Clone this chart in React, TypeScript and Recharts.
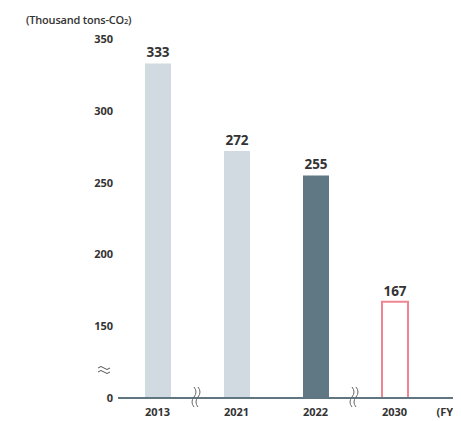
import { BarChart, Bar, XAxis, YAxis, Cell, LabelList } from 'recharts';

const years = ['2013', '2021', '2022', '2030'];
const emissions = [333, 272, 255, 167];
const barFills = ['#d0dae0', '#d0dae0', '#5f7883', '#ffffff'];
const barStrokes = ['none', 'none', 'none', '#f08592'];
const yTicks = [100, 150, 200, 250, 300, 350];
// the axis is broken: the bottom tick stands for 0
const yTickLabels = ['0', '150', '200', '250', '300', '350'];
const breakAfter = [0, 2];

const data = years.map((year, i) => ({ year, value: emissions[i] }));

const tickFont = { fontFamily: "'Open Sans', sans-serif", fontWeight: 700, fontSize: 11, fill: '#333' };

const XTick = (props: any) => {
  const { x, y, payload, index } = props;
  const half = 39.5;
  return (
    <g>
      <text x={x} y={y} dy="0.71em" textAnchor="middle" {...tickFont}>
        {payload.value}
      </text>
      {breakAfter.includes(index) && (
        <g stroke="#666" strokeWidth={1} fill="none">
          <path d={`M ${x + half - 3} ${y - 21} q 4 5 0 10 q -4 5 0 10`} />
          <path d={`M ${x + half + 1} ${y - 21} q 4 5 0 10 q -4 5 0 10`} />
        </g>
      )}
      {index === years.length - 1 && (
        <text x={x + 42} y={y} dy="0.71em" textAnchor="start" {...tickFont}>
          (FY)
        </text>
      )}
    </g>
  );
};

const YTick = (props: any) => {
  const { x, y, payload, index } = props;
  return (
    <g>
      <text x={x} y={y} dy="0.355em" textAnchor="end" {...tickFont}>
        {yTickLabels[index] ?? payload.value}
      </text>
      {payload.value === 100 && (
        <g stroke="#555" strokeWidth={1} fill="none">
          <path d={`M ${x - 15} ${y - 30} q 3 -3 6 0 t 6 0`} />
          <path d={`M ${x - 15} ${y - 26} q 3 -3 6 0 t 6 0`} />
        </g>
      )}
    </g>
  );
};

const App = () => {
  return (
    <div style={{ position: 'relative', width: 453, height: 413, overflow: 'hidden' }}>
      <div
        style={{
          position: 'absolute',
          left: 18,
          top: 4,
          fontFamily: "'Open Sans', sans-serif",
          fontWeight: 600,
          fontSize: 11,
          color: '#333',
          letterSpacing: -0.2,
        }}
      >
        (Thousand tons-CO<span style={{ fontSize: 7.5 }}>2</span>)
      </div>
      <BarChart width={480} height={413} data={data} margin={{ top: 31, right: 14, bottom: 0, left: 0 }}>
        <XAxis
          dataKey="year"
          height={23}
          padding={{ left: 0, right: 40 }}
          tickLine={false}
          tickSize={0}
          tickMargin={10}
          axisLine={{ stroke: '#5f7680', strokeWidth: 2 }}
          tick={<XTick />}
          interval={0}
        />
        <YAxis
          width={110}
          domain={[100, 350]}
          ticks={yTicks}
          allowDataOverflow
          axisLine={false}
          tickLine={false}
          tickSize={0}
          tickMargin={5}
          tick={<YTick />}
          interval={0}
        />
        <Bar dataKey="value" barSize={26} isAnimationActive={false}>
          {data.map((d, i) => (
            <Cell key={d.year} fill={barFills[i]} stroke={barStrokes[i]} strokeWidth={2} />
          ))}
          <LabelList
            dataKey="value"
            position="top"
            offset={6}
            style={{ fontFamily: "'Open Sans', sans-serif", fontWeight: 700, fontSize: 13.5, fill: '#333' }}
          />
        </Bar>
      </BarChart>
    </div>
  );
};

export default App;
